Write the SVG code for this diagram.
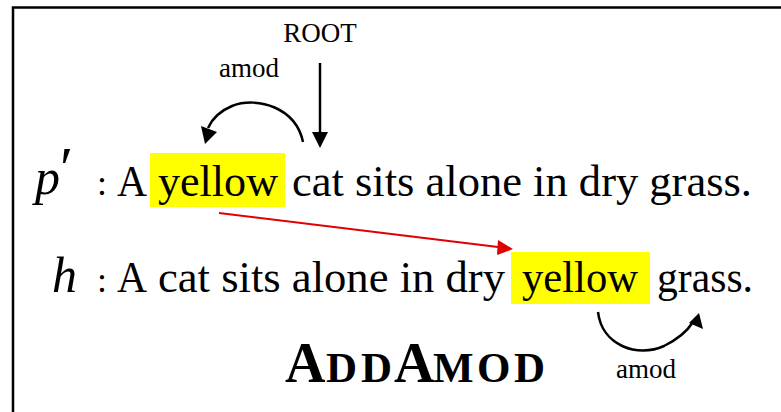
<svg xmlns="http://www.w3.org/2000/svg" width="781" height="412" viewBox="0 0 781 412">
  <style>
    .txt { font-family: "Liberation Serif", "Times New Roman", serif; fill: #000; }
    .main { font-size: 44px; }
    .colon { font-size: 36px; }
    .math { font-size: 50px; font-style: italic; }
    .lbl { font-size: 27px; }
    .title { font-size: 56px; font-weight: bold; }
    .sc { font-size: 43px; }
    .hl { fill: #FFFF00; }
    .arc { fill: none; stroke: #000; stroke-width: 2.5; }
  </style>

  <rect width="781" height="412" fill="#fff"/>

  <!-- frame (open on the right and bottom) -->
  <path d="M13,412 L13,7.5 L781,7.5" fill="none" stroke="#000" stroke-width="2.5"/>

  <!-- premise sentence p' -->
  <g id="premise">
    <rect class="hl" x="150" y="153" width="135" height="54"/>
    <text class="txt math" x="35" y="194" font-size="55">p</text>
    <text class="txt" x="60" y="188" font-size="60" font-family="DejaVu Serif, serif">′</text>
    <text class="txt colon" x="97" y="195">:</text>
    <text class="txt main" x="117" y="196" textLength="30" lengthAdjust="spacingAndGlyphs">A</text>
    <text class="txt main" x="158" y="196" textLength="120" lengthAdjust="spacingAndGlyphs">yellow</text>
    <text class="txt main" x="292" y="196" textLength="460" lengthAdjust="spacingAndGlyphs">cat sits alone in dry grass.</text>
  </g>

  <!-- hypothesis sentence h -->
  <g id="hypothesis">
    <rect class="hl" x="511" y="252" width="139" height="52"/>
    <text class="txt math" x="52" y="292">h</text>
    <text class="txt colon" x="97" y="292">:</text>
    <text class="txt main" x="117" y="292" textLength="30" lengthAdjust="spacingAndGlyphs">A</text>
    <text class="txt main" x="158" y="292" textLength="347" lengthAdjust="spacingAndGlyphs">cat sits alone in dry</text>
    <text class="txt main" x="522" y="292" textLength="116" lengthAdjust="spacingAndGlyphs">yellow</text>
    <text class="txt main" x="657" y="292" textLength="96" lengthAdjust="spacingAndGlyphs">grass.</text>
  </g>

  <g id="root-label">
    <text class="txt lbl" x="320" y="42" text-anchor="middle">ROOT</text>
  </g>
  <g id="amod-top-label">
    <text class="txt lbl" x="249" y="77" text-anchor="middle">amod</text>
  </g>
  <g id="amod-bottom-label">
    <text class="txt lbl" x="646" y="378" text-anchor="middle">amod</text>
  </g>

  <g id="rule-name">
    <text class="txt title" y="382"><tspan x="285">A</tspan><tspan class="sc" x="326">D</tspan><tspan class="sc" x="361">D</tspan><tspan x="394">A</tspan><tspan class="sc" x="433">M</tspan><tspan class="sc" x="477">O</tspan><tspan class="sc" x="514">D</tspan></text>
  </g>

  <!-- connectors -->
  <g id="connectors">
    <!-- ROOT -> cat -->
    <line x1="320" y1="63" x2="320" y2="133" stroke="#000" stroke-width="2.5"/>
    <path d="M312,132 L328,132 L320,148 Z" fill="#000"/>
    <!-- cat -> yellow (amod, premise) -->
    <path class="arc" d="M303,142 C296,108 258,96 232,106 C220,111 212,119 208,128"/>
    <path d="M201,126 L217,132 L205,144 Z" fill="#000"/>
    <!-- grass -> yellow (amod, hypothesis) -->
    <path class="arc" d="M598,312 C602,346 638,358 664,346 C678,339 688,330 693,322"/>
    <path d="M689,323 L703,329 L699,313 Z" fill="#000"/>
    <!-- alignment: yellow in p' -> yellow in h -->
    <line x1="219" y1="213" x2="498" y2="247" stroke="#E00000" stroke-width="2"/>
    <path d="M498,240 L513,249 L497,255 Z" fill="#E00000"/>
  </g>
</svg>
